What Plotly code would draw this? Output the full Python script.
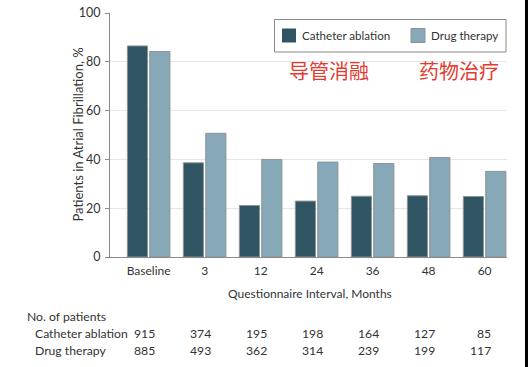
import plotly.graph_objects as go

categories = ["Baseline", "3", "12", "24", "36", "48", "60"]
ablation = [86.5, 38.6, 21.1, 22.9, 24.9, 25.1, 24.8]
drug = [84.2, 50.7, 40.0, 38.9, 38.3, 40.8, 35.1]
n_ablation = [915, 374, 195, 198, 164, 127, 85]
n_drug = [885, 493, 362, 314, 239, 199, 117]
series_names = ["Catheter ablation", "Drug therapy"]
series_colors = ["#2e5561", "#87a8b8"]
cn_labels = ["导管消融", "药物治疗"]
y_ticks = [0, 20, 40, 60, 80, 100]
x_title = "Questionnaire Interval, Months"
y_title = "Patients in Atrial Fibrillation, %"

FONT = "Lato"
TXT = "#333333"
EDGE = "#8c9396"

W, H = 528, 367
PL, PR, PT, PB = 110, 507, 13, 257   # plot area in window pixels
L, T, R, B = PL, PT, W - PR, H - PB
ph = PB - PT
pw = PR - PL

def py(p):
    return (PB - p) / ph

def px(p):
    return (p - PL) / pw

fig = go.Figure()
fig.add_trace(go.Bar(x=categories, y=ablation, name=series_names[0], showlegend=False,
                     marker=dict(color=series_colors[0], line=dict(color=EDGE, width=1))))
fig.add_trace(go.Bar(x=categories, y=drug, name=series_names[1], showlegend=False,
                     marker=dict(color=series_colors[1], line=dict(color=EDGE, width=1))))

def txt(text, x, y, xanchor="left", size=12, color=TXT, family=FONT, **kw):
    return dict(text=text, x=x, y=y, xanchor=xanchor, yanchor="middle", showarrow=False,
                font=dict(size=size, color=color, family=family), **kw)

TS = 12.2
ann = []
ann.append(txt("No. of patients", px(25), py(316), size=TS, xref="paper", yref="paper"))
ann.append(txt(series_names[0], px(33), py(333), size=TS, xref="paper", yref="paper"))
ann.append(txt(series_names[1], px(33), py(350), size=TS, xref="paper", yref="paper"))
for i, c in enumerate(categories):
    ann.append(txt(str(n_ablation[i]), i, py(333), xanchor="right", size=TS, xref="x", yref="paper", xshift=8))
    ann.append(txt(str(n_drug[i]), i, py(350), xanchor="right", size=TS, xref="x", yref="paper", xshift=8))
ann.append(txt(cn_labels[0], px(329), py(70), xanchor="center", size=20, color="#e23b30",
               family="Noto Sans CJK SC", xref="paper", yref="paper"))
ann.append(txt(cn_labels[1], px(459), py(70), xanchor="center", size=20, color="#e23b30",
               family="Noto Sans CJK SC", xref="paper", yref="paper"))
# axis titles
ann.append(txt(x_title, px(310), py(293), xanchor="center", xref="paper", yref="paper"))
ann.append(txt(y_title, px(77.5), py(135), xanchor="center", size=13, xref="paper", yref="paper",
               textangle=-90))
# manual legend labels
ann.append(txt(series_names[0], px(300), py(35.5), size=11.6, xref="paper", yref="paper"))
ann.append(txt(series_names[1], px(429), py(35.5), size=11.6, xref="paper", yref="paper"))

shapes = [
    dict(type="rect", xref="paper", yref="paper", x0=px(274.5), x1=px(506), y0=py(19.5), y1=py(52),
         fillcolor="white", line=dict(color="#8a8a8a", width=1), layer="above"),
    dict(type="rect", xref="paper", yref="paper", x0=px(282), x1=px(296), y0=py(28.5), y1=py(42.5),
         fillcolor=series_colors[0], line=dict(width=0), layer="above"),
    dict(type="rect", xref="paper", yref="paper", x0=px(411), x1=px(425), y0=py(28.5), y1=py(42.5),
         fillcolor=series_colors[1], line=dict(color=EDGE, width=1), layer="above"),
    dict(type="rect", xref="paper", yref="paper", x0=px(525), x1=px(532),
         y0=py(-5), y1=py(372), fillcolor="black", line=dict(width=0), layer="above"),
]

fig.update_layout(
    width=W, height=H,
    margin=dict(l=L, r=R, t=T, b=B, pad=0, autoexpand=False),
    paper_bgcolor="white", plot_bgcolor="white",
    font=dict(family=FONT, size=12, color=TXT),
    barmode="group", bargap=0.2, bargroupgap=0.1,
    showlegend=False,
    annotations=ann,
    shapes=shapes,
)
fig.update_xaxes(type="category", range=[-0.69, 6.40], showline=True, linecolor="#8a8a8a",
                 linewidth=1, ticks="", showgrid=False, ticklabelstandoff=3,
                 tickfont=dict(size=12, color=TXT, family=FONT))
fig.update_yaxes(range=[0, 100], tickvals=y_ticks, showline=True, linecolor="#8a8a8a",
                 linewidth=1, ticks="outside", ticklen=4, tickcolor="#8a8a8a",
                 gridcolor="#e6e6e6", gridwidth=1, zeroline=False, ticklabelstandoff=2,
                 ticklabeloverflow="allow",
                 tickfont=dict(size=12.5, color=TXT, family=FONT))

fig.write_html("out.html", config={"displayModeBar": False},
               post_script="document.body.style.margin='0';document.body.style.padding='0';")
